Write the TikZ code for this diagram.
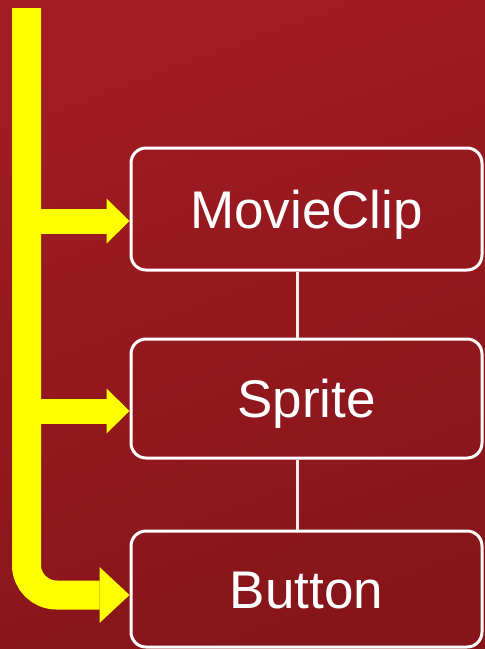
\documentclass[tikz,border=0pt]{standalone}
\usepackage{fontspec}
\setmainfont{Liberation Sans}
\usetikzlibrary{arrows.meta,calc}
\definecolor{bgtop}{RGB}{160,28,34}
\definecolor{bgbot}{RGB}{134,21,26}
\definecolor{barY}{RGB}{255,255,0}
\definecolor{linkW}{RGB}{246,236,236}
\begin{document}
\begin{tikzpicture}[x=1pt,y=-1pt,
  box/.style={draw=white, line width=3pt, rounded corners=15pt, minimum width=351pt,
    inner sep=0pt, text=white, font=\fontsize{53}{60}\selectfont,
    text height=38pt, text depth=0pt},
  link/.style={draw=linkW, line width=3pt},
  feed/.style={draw=barY, line width=25pt,
    -{Triangle[length=23pt,width=45pt,line width=0pt]}},
  trunk/.style={draw=barY, line width=29pt, rounded corners=30pt,
    -{Triangle[length=30pt,width=56pt,line width=0pt]}}]
\useasboundingbox (0,0) rectangle (485,649);
\shade[top color=bgtop, bottom color=bgbot, shading angle=20] (0,0) rectangle (485,649);

\node[box, minimum height=122pt] (mc) at (306.5,209) {MovieClip};
\node[box, minimum height=119pt] (sp) at (306.5,398.5) {Sprite};
\node[box, minimum height=116pt] (bt) at (306.5,589) {Button};

\draw[link] ($(mc.south)+(-9.5,0)$) -- ($(sp.north)+(-9.5,0)$);
\draw[link] ($(sp.south)+(-9.5,0)$) -- ($(bt.north)+(-9.5,0)$);

\coordinate (top) at (26.5,8);
\coordinate (j1) at (26.5,221);
\coordinate (j2) at (26.5,411);
\draw[trunk] (top) |- ($(bt.west)+(0,6)$);
\draw[feed] (j1) -- ($(mc.west)+(0,12)$);
\draw[feed] (j2) -- ($(sp.west)+(0,12.5)$);
\end{tikzpicture}
\end{document}
